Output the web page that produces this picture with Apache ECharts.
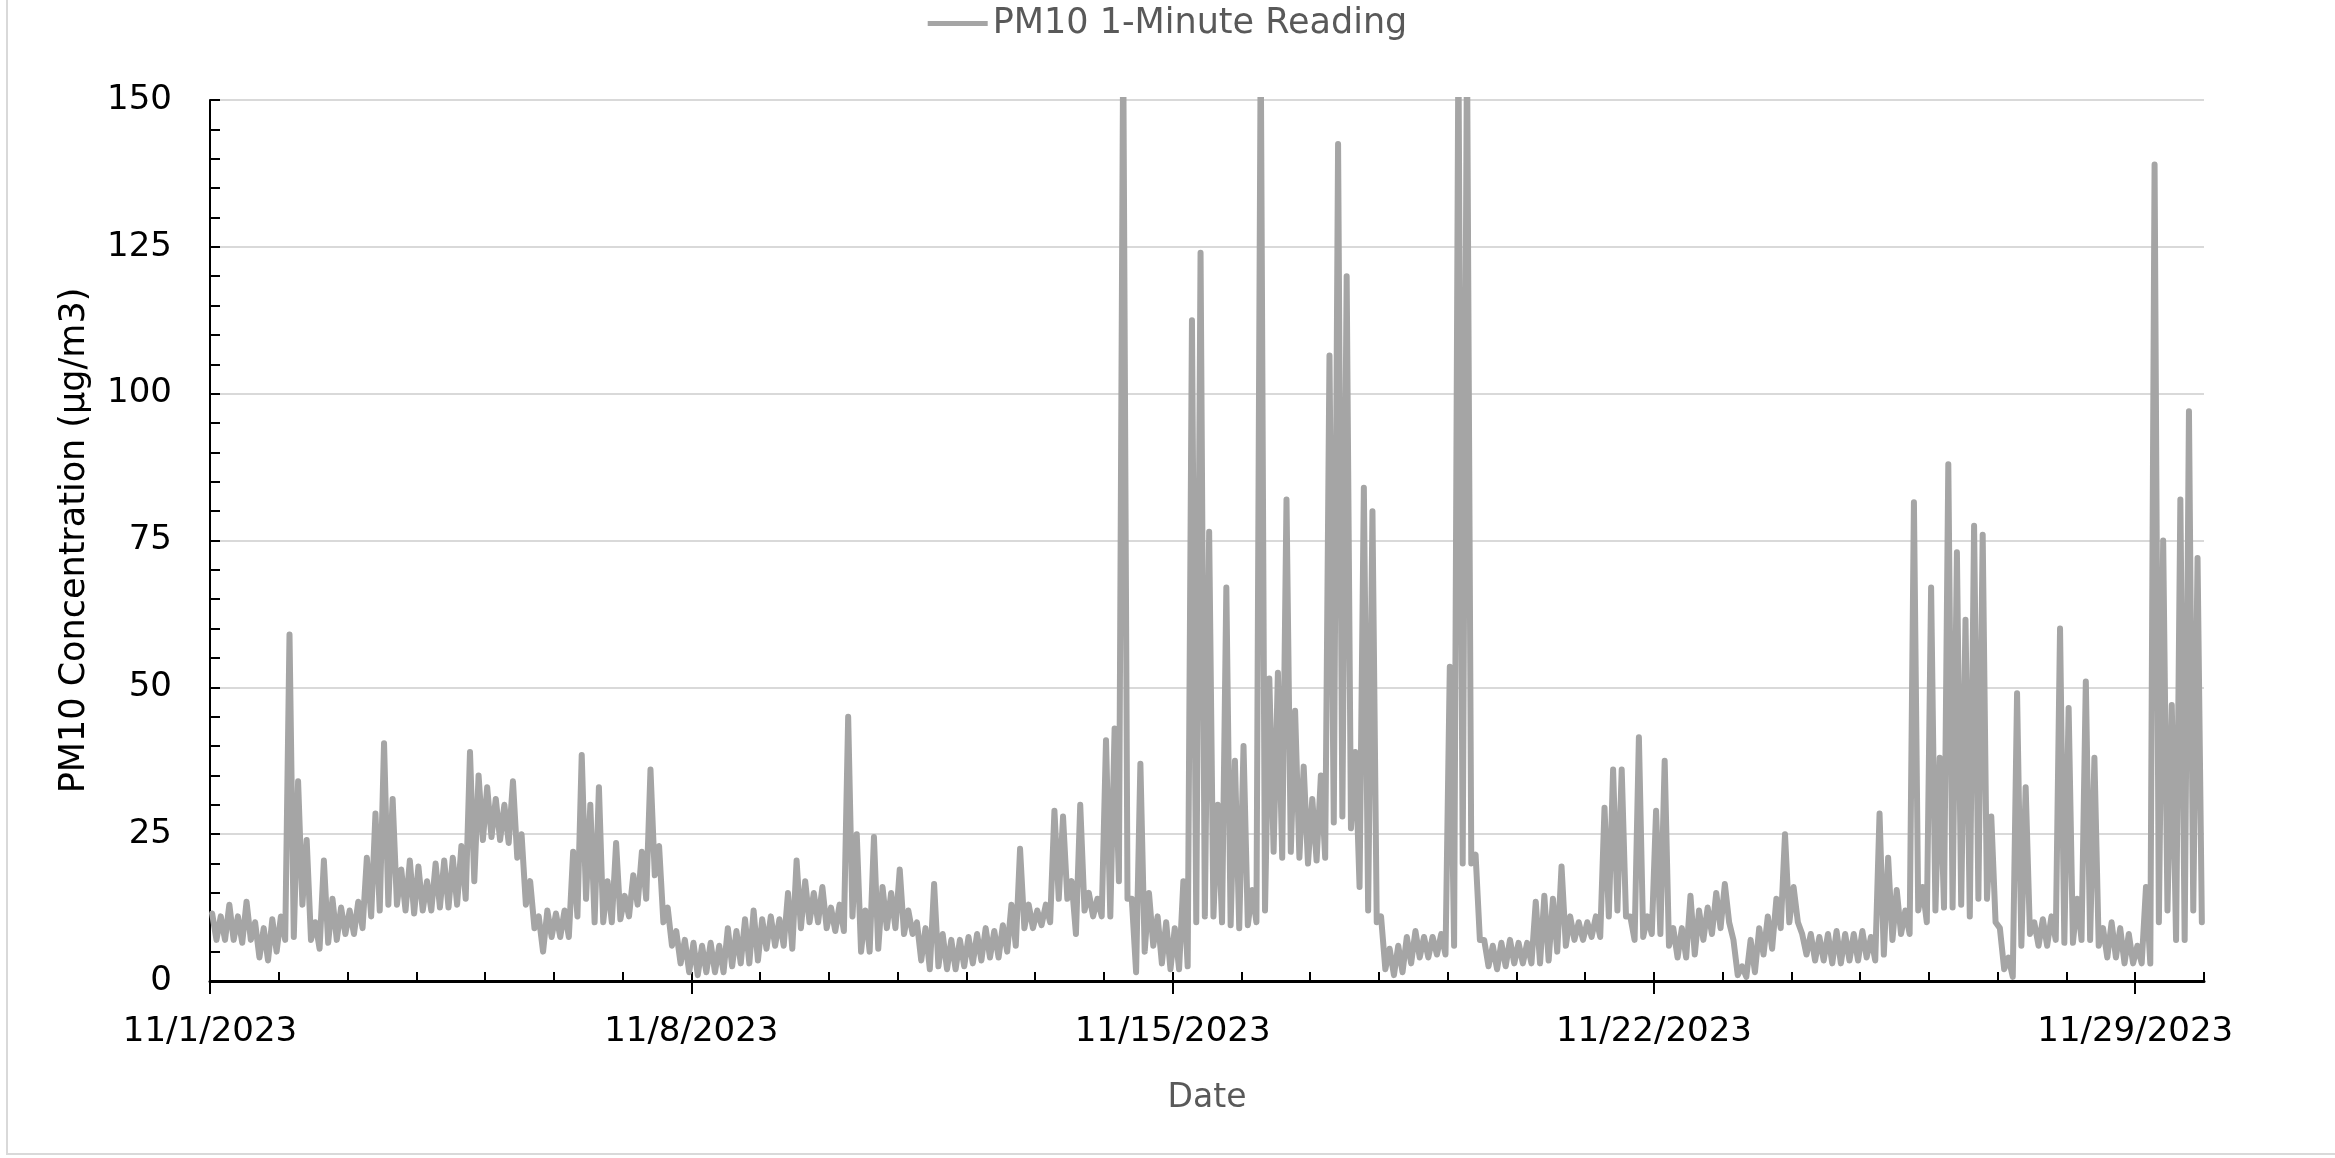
<!DOCTYPE html>
<html><head><meta charset="utf-8">
<script src="https://cdn.jsdelivr.net/npm/echarts@6/dist/echarts.min.js"></script>
<style>html,body{margin:0;padding:0;background:#fff}#c{width:2335px;height:1158px}</style>
</head><body><div id="c"></div>
<script>
const seriesName = 'PM10 1-Minute Reading';
const xTitle = 'Date';
const yTitle = 'PM10 Concentration (µg/m3)';
const tickLabels = ['11/1/2023', '11/8/2023', '11/15/2023', '11/22/2023', '11/29/2023'];
const slotHours = 3; // each entry = one 3-hour slot, starting 11/1/2023 00:00
// upper edge of the 1-minute band in each slot (µg/m3), one row per day
const hiVals = [
  11.5, 11, 13, 11, 13.5, 10, 9, 10.5,        // 11/1
  11, 59, 34, 24, 10, 20.5, 14, 12.5,         // 11/2
  12, 13.5, 21, 28.5, 40.5, 31, 19, 20.5,     // 11/3
  19.5, 17, 20, 20.5, 21, 23, 39, 35,         // 11/4
  33, 31, 30, 34, 25, 17, 11, 12,             // 11/5
  11.5, 12, 22, 38.5, 30, 33, 17, 23.5,       // 11/6
  14.5, 18, 22, 36, 23, 12.5, 8.5, 7,         // 11/7
  6.5, 6, 6.5, 6, 9, 8.5, 10.5, 12,           // 11/8
  10.5, 11, 10.5, 15, 20.5, 17, 15, 16,       // 11/9
  12.5, 13, 45, 25, 12, 24.5, 16, 15,         // 11/10
  19, 12, 10, 9, 16.5, 8, 7, 7,               // 11/11
  7.5, 8, 9, 8.5, 9.5, 13, 22.5, 13,          // 11/12
  12, 13, 29, 28, 17, 30, 15, 14,             // 11/13
  41, 43, 160, 14, 37, 15, 11, 10,            // 11/14
  9, 17, 112.5, 124, 76.5, 30, 67, 37.5,      // 11/15
  40, 15.5, 160, 51.5, 52.5, 82, 46, 36.5,    // 11/16
  31, 35, 106.5, 142.5, 120, 39, 84, 80,      // 11/17
  11, 5.5, 6, 7.5, 8.5, 7.5, 7.5, 8,          // 11/18
  53.5, 160, 160, 21.5, 7, 6, 6.5, 7,         // 11/19
  6.5, 6.5, 13.5, 14.5, 14, 19.5, 11, 10,     // 11/20
  10, 11, 29.5, 36, 36, 11, 41.5, 11,         // 11/21
  29, 37.5, 9, 9, 14.5, 12, 12.5, 15,         // 11/22
  16.5, 7, 2.5, 7, 9, 11, 14, 25,             // 11/23
  16, 8, 8, 7.5, 8, 8.5, 8, 8,                // 11/24
  8.5, 7.5, 28.5, 21, 15.5, 12, 81.5, 16,     // 11/25
  67, 38, 88, 73, 61.5, 77.5, 76, 28,         // 11/26
  9, 4, 49, 33, 10, 10.5, 11, 60,             // 11/27
  46.5, 14, 51, 38, 9, 10, 9, 8,              // 11/28
  6, 16, 139, 75, 47, 82, 97, 72              // 11/29
];
// lower edge of the band in each slot (µg/m3)
const loVals = [
  7, 7, 7, 6.5, 7, 4, 3.5, 5,                 // 11/1
  7, 7.5, 13, 7, 5.5, 6.5, 7, 8,              // 11/2
  8, 9, 11, 12, 13, 13, 12, 11.5,             // 11/3
  12, 12, 12.5, 12.5, 13, 14, 17, 24,         // 11/4
  24.5, 24, 23.5, 21, 13, 9, 5, 7.5,          // 11/5
  7.5, 7.5, 11, 14, 10, 10, 10, 10.5,         // 11/6
  11, 13, 14, 18, 10, 6, 3, 1.5,              // 11/7
  1, 1.5, 1.5, 1.5, 2.5, 3, 3, 3.5,           // 11/8
  5.5, 6, 6, 5.5, 9, 10, 10, 9,               // 11/9
  8.5, 8.5, 11, 5, 5, 5.5, 9, 9,              // 11/10
  8, 8, 3.5, 2, 2.5, 2, 2, 2.5,               // 11/11
  3, 3.5, 4, 4, 5, 6, 9, 9,                   // 11/12
  9.5, 10, 14, 14, 8, 12, 11, 11,             // 11/13
  11, 17, 14, 1.5, 5, 6, 3, 2,                // 11/14
  2, 2.5, 10, 11, 11, 10, 9.5, 9,             // 11/15
  9.5, 10, 12, 22, 21, 22, 21, 20,            // 11/16
  20.5, 21, 27, 28, 26, 16, 12, 10,           // 11/17
  2, 1, 1.5, 3, 4, 4, 4.5, 4.5,               // 11/18
  6, 20, 20, 7, 2.5, 2, 2.5, 3,               // 11/19
  3, 3, 3, 3.5, 5, 6, 7, 7,                   // 11/20
  7.5, 7.5, 11, 12, 11, 7, 7.5, 8,            // 11/21
  8, 6, 4, 4, 4.5, 7, 8, 9,                   // 11/22
  10, 1, 0.7, 1.5, 4.5, 5.5, 9, 10,           // 11/23
  10, 4.5, 3.5, 3.5, 3, 3, 3.5, 3.5,          // 11/24
  4, 3.5, 4.5, 7, 8, 8, 12, 10,               // 11/25
  12, 12.5, 12.5, 13, 11, 14, 14, 10,         // 11/26
  2, 0.7, 6, 8, 6, 6, 7, 6.5,                 // 11/27
  6.5, 7, 7, 6, 4, 4, 3, 3,                   // 11/28
  3, 3, 10, 12, 7, 7, 12, 10                  // 11/29
];

const F = 'DejaVu Sans';
const slotDays = slotHours / 24;
const lineData = [];
for (let i = 0; i < hiVals.length; i++) {
  const t0 = i * slotDays;
  lineData.push([t0 + slotDays * 0.25, hiVals[i]]);
  lineData.push([t0 + slotDays * 0.75, loVals[i]]);
}

const chart = echarts.init(document.getElementById('c'), null, {renderer: 'canvas'});
chart.setOption({
  animation: false,
  backgroundColor: '#ffffff',
  textStyle: {fontFamily: F},
  graphic: [{
    type: 'rect', silent: true, z: -10,
    shape: {x: 7, y: -10, width: 2400, height: 1164},
    style: {fill: 'none', stroke: '#D9D9D9', lineWidth: 2}
  }],
  legend: {
    top: 1, left: 'center',
    itemWidth: 60, itemHeight: 5, icon: 'rect',
    textStyle: {fontSize: 35, color: '#595959', fontFamily: F},
    data: [{name: seriesName, icon: 'rect', itemStyle: {color: '#A5A5A5'}}]
  },
  grid: {left: 210, right: 131, top: 100, bottom: 177, containLabel: false},
  xAxis: [{
    type: 'value', position: 'bottom', min: 0, max: 29, interval: 7,
    axisLine: {show: true, onZero: false, lineStyle: {color: '#000', width: 3}},
    axisTick: {show: true, inside: false, length: 13, lineStyle: {color: '#000', width: 2}},
    axisLabel: {
      formatter: v => (v % 7 === 0 && tickLabels[v / 7]) ? tickLabels[v / 7] : '',
      showMaxLabel: false, fontSize: 34, color: '#000', margin: 34, fontFamily: F
    },
    splitLine: {show: false},
    name: xTitle, nameLocation: 'middle', nameGap: 101,
    nameTextStyle: {fontSize: 33, color: '#595959', fontFamily: F}
  }, {
    type: 'value', position: 'bottom', min: 0, max: 29, interval: 1,
    axisLine: {show: false, onZero: false},
    axisTick: {show: true, inside: true, length: 9, lineStyle: {color: '#000', width: 2}},
    axisLabel: {show: false},
    splitLine: {show: false}
  }],
  yAxis: {
    type: 'value', min: 0, max: 150, interval: 25,
    axisLine: {show: true, lineStyle: {color: '#000', width: 2}},
    axisTick: {show: true, inside: true, length: 10, lineStyle: {color: '#000', width: 2}},
    minorTick: {show: true, splitNumber: 5, length: 10, lineStyle: {color: '#000', width: 2}},
    splitLine: {show: true, lineStyle: {color: '#D9D9D9', width: 2}},
    axisLabel: {fontSize: 34, color: '#000', margin: 38, fontFamily: F},
    name: yTitle, nameLocation: 'middle', nameGap: 118,
    nameTextStyle: {fontSize: 35, color: '#000', fontFamily: F}
  },
  series: [{
    name: seriesName, type: 'line', xAxisIndex: 0, yAxisIndex: 0,
    data: lineData, showSymbol: false, symbol: 'none', sampling: null, clip: true,
    lineStyle: {color: '#A5A5A5', width: 6, join: 'round', cap: 'round'},
    itemStyle: {color: '#A5A5A5'}
  }]
});
</script></body></html>
